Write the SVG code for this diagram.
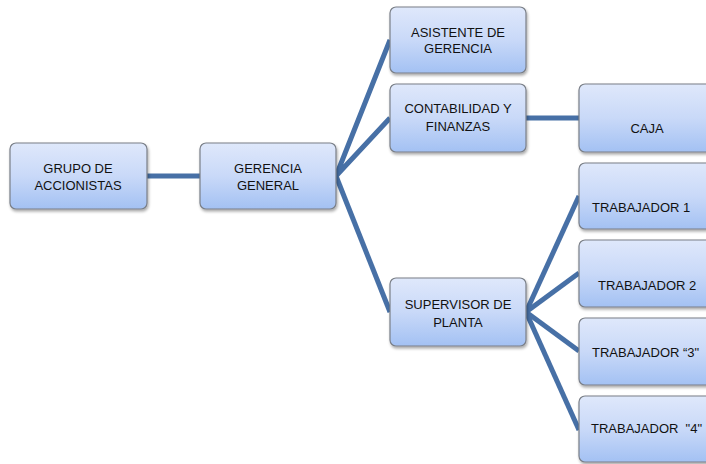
<svg xmlns="http://www.w3.org/2000/svg" width="706" height="464" viewBox="0 0 706 464">
<defs>
<linearGradient id="g" x1="0" y1="0" x2="0" y2="1">
<stop offset="0" stop-color="#dfe8fb"/>
<stop offset="0.5" stop-color="#c9d9f8"/>
<stop offset="1" stop-color="#a3c1f3"/>
</linearGradient>
<filter id="sh" x="-10%" y="-10%" width="130%" height="140%">
<feGaussianBlur in="SourceAlpha" stdDeviation="1.5"/>
<feOffset dx="1" dy="2" result="b"/>
<feComponentTransfer><feFuncA type="linear" slope="0.35"/></feComponentTransfer>
<feMerge><feMergeNode/><feMergeNode in="SourceGraphic"/></feMerge>
</filter>
</defs>
<style>
.box{fill:url(#g);stroke:#7a7f88;stroke-width:1.2;filter:url(#sh)}
.t{font-family:"Liberation Sans",Arial,sans-serif;font-size:13px;fill:#111;text-anchor:middle}
.ts{font-family:"Liberation Sans",Arial,sans-serif;font-size:13px;fill:#111}
.c{stroke:#4770a6;stroke-width:5;fill:none;stroke-linecap:butt}
</style>
<rect width="706" height="464" fill="#fff"/>
<g id="connectors">
<line class="c" x1="147" y1="176" x2="200" y2="176"/>
<polyline class="c" points="390,40 336,176 390,118"/>
<line class="c" x1="336" y1="176" x2="390" y2="312"/>
<line class="c" x1="526" y1="118" x2="579" y2="118"/>
<line class="c" x1="526" y1="312" x2="579" y2="196"/>
<line class="c" x1="526" y1="312" x2="579" y2="273"/>
<line class="c" x1="526" y1="312" x2="579" y2="351"/>
<line class="c" x1="526" y1="312" x2="579" y2="430"/>
</g>
<g id="grupo"><rect class="box" x="10" y="143" width="137" height="66" rx="6"/>
<text class="t" x="78" y="173">GRUPO DE</text><text class="t" x="78" y="190">ACCIONISTAS</text></g>
<g id="gerencia"><rect class="box" x="200" y="143" width="136" height="66" rx="6"/>
<text class="t" x="268" y="173">GERENCIA</text><text class="t" x="268" y="190">GENERAL</text></g>
<g id="asistente"><rect class="box" x="390" y="7" width="136" height="66" rx="6"/>
<text class="t" x="458" y="37">ASISTENTE DE</text><text class="t" x="458" y="53">GERENCIA</text></g>
<g id="contabilidad"><rect class="box" x="390" y="84" width="136" height="68" rx="6"/>
<text class="t" x="458" y="113">CONTABILIDAD Y</text><text class="t" x="458" y="131">FINANZAS</text></g>
<g id="supervisor"><rect class="box" x="390" y="278" width="136" height="68" rx="6"/>
<text class="t" x="458" y="309">SUPERVISOR DE</text><text class="t" x="458" y="327">PLANTA</text></g>
<g id="caja"><rect class="box" x="579" y="84" width="140" height="68" rx="6"/>
<text class="t" x="647" y="133">CAJA</text></g>
<g id="trab1"><rect class="box" x="579" y="163" width="140" height="66" rx="6"/>
<text class="ts" x="592" y="212">TRABAJADOR 1</text></g>
<g id="trab2"><rect class="box" x="579" y="240" width="140" height="67" rx="6"/>
<text class="ts" x="598" y="290">TRABAJADOR 2</text></g>
<g id="trab3"><rect class="box" x="579" y="318" width="140" height="67" rx="6"/>
<text class="ts" x="592" y="357">TRABAJADOR “3"</text></g>
<g id="trab4"><rect class="box" x="579" y="396" width="140" height="66" rx="6"/>
<text class="ts" x="591" y="433" xml:space="preserve">TRABAJADOR  "4"</text></g>
</svg>
